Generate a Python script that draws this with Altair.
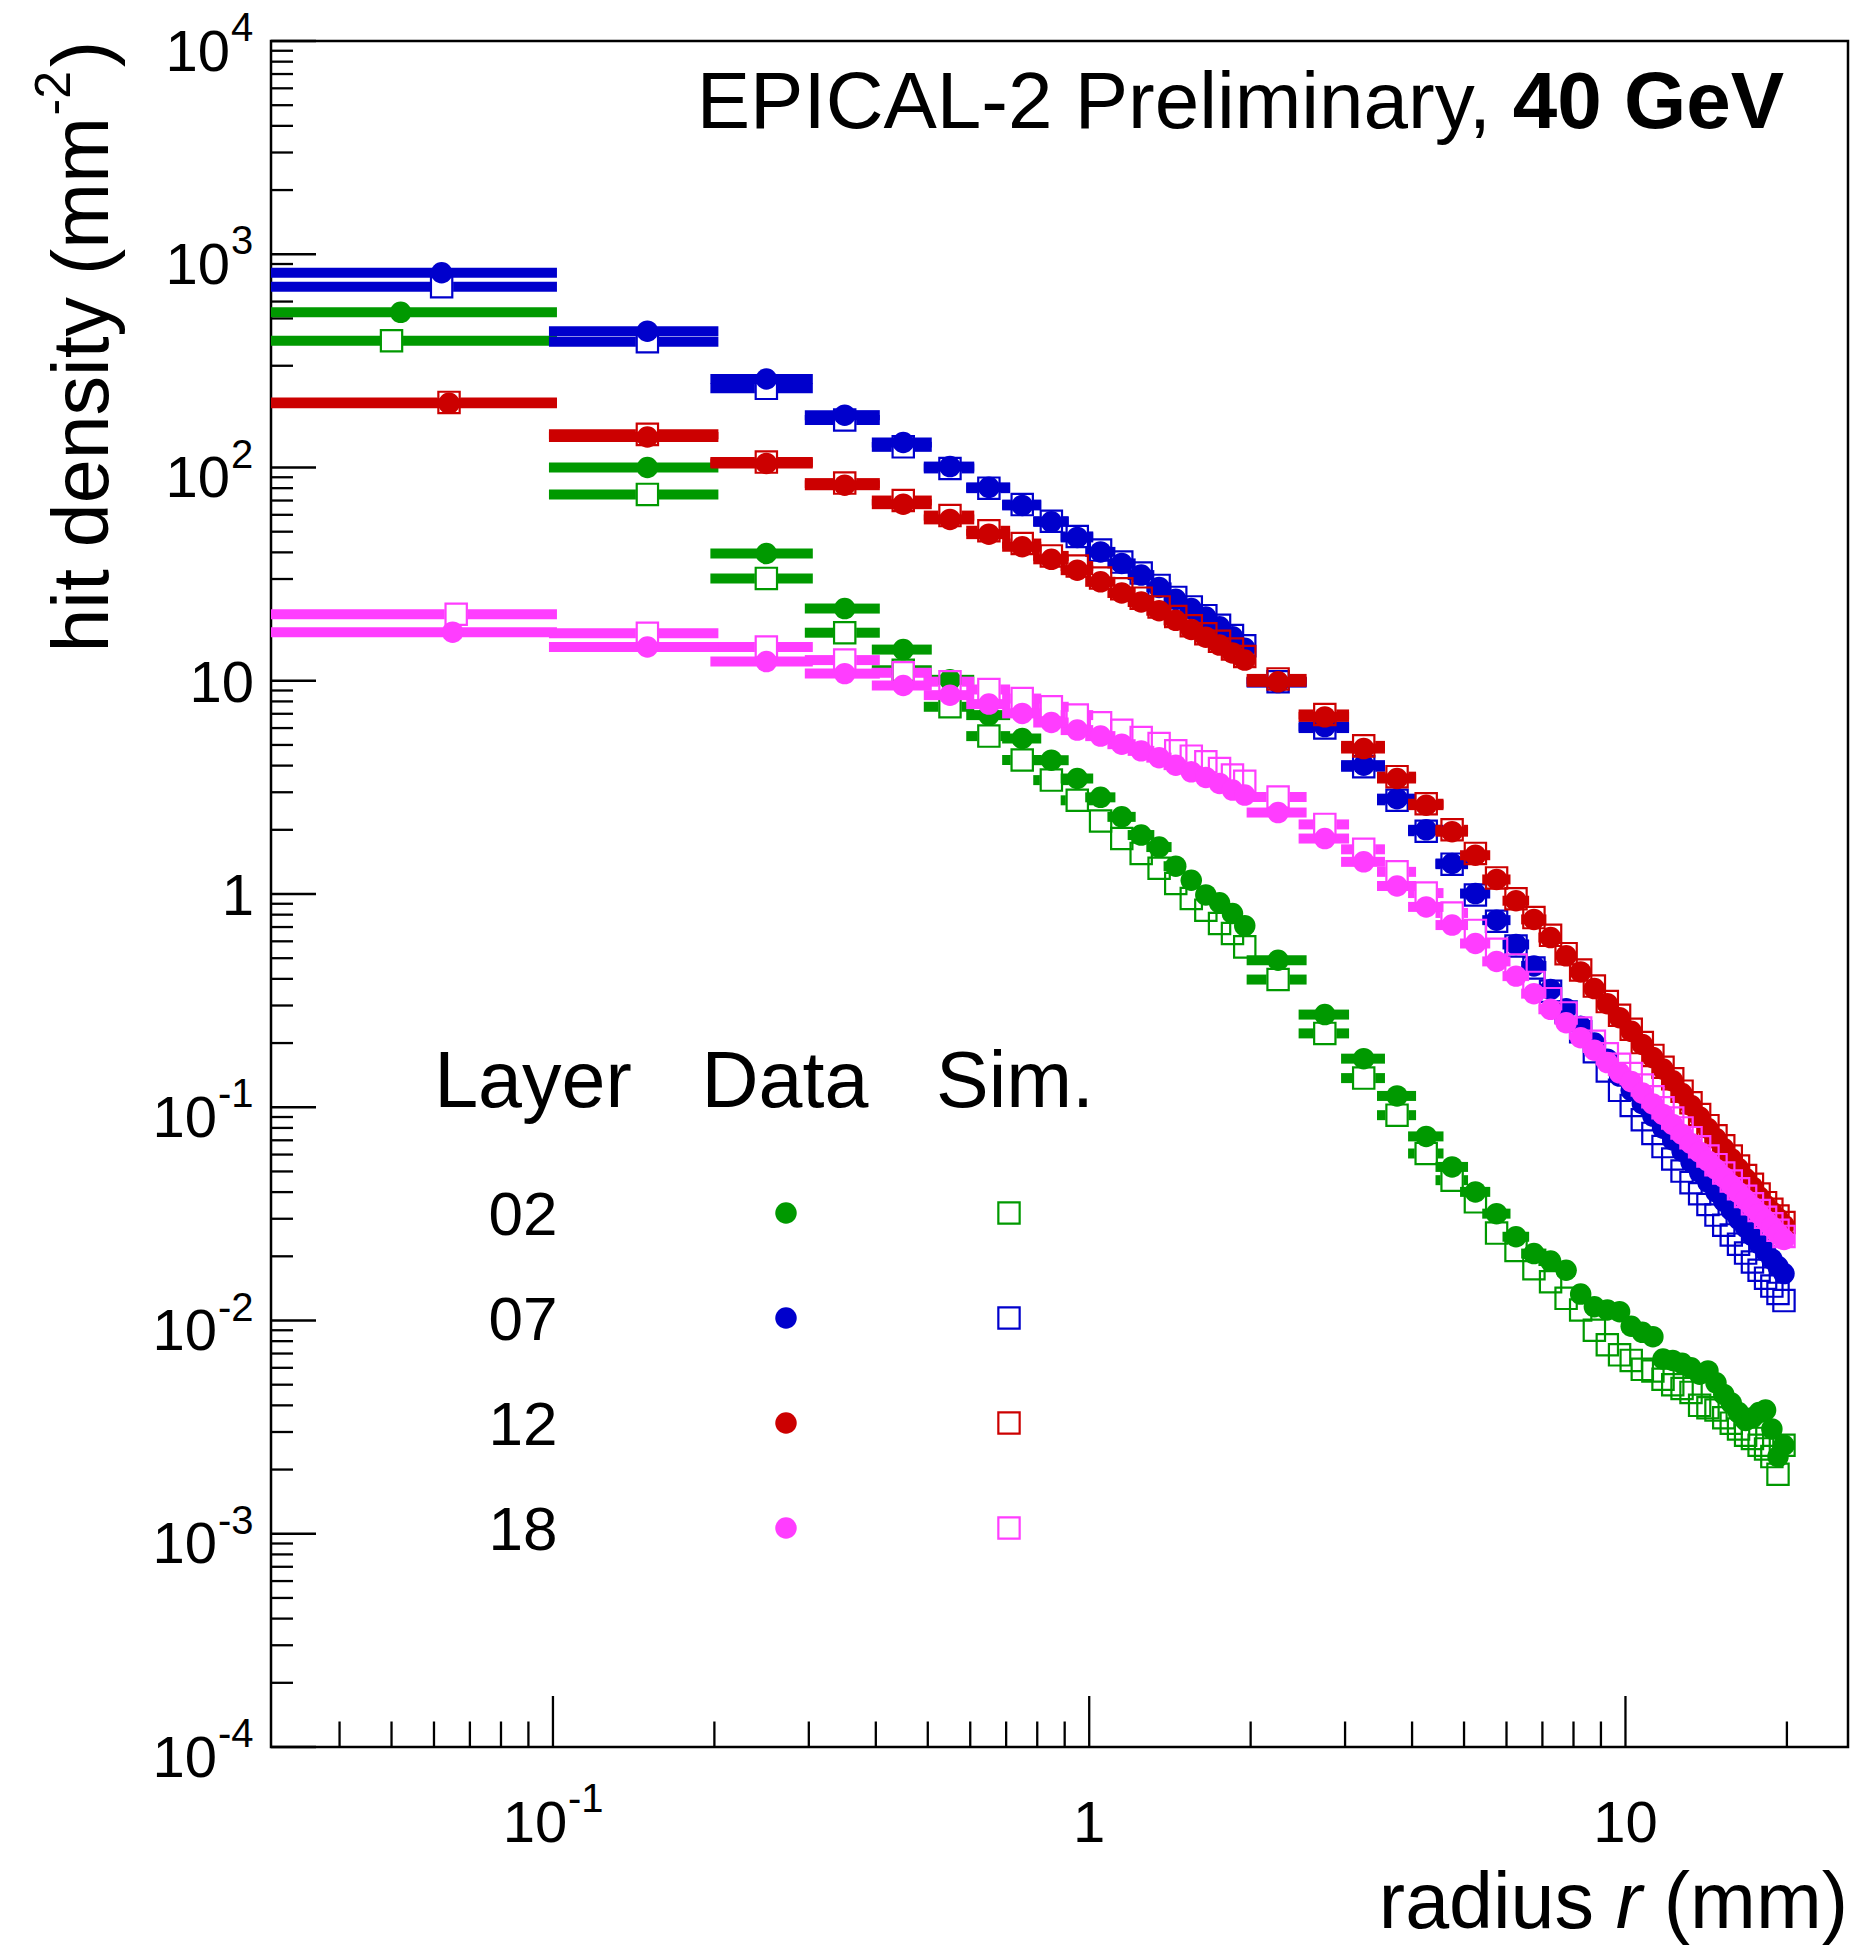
import math
import altair as alt
import pandas as pd

# ---------------------------------------------------------------------------
# Radial hit-density profiles, EPICAL-2, 40 GeV
# ---------------------------------------------------------------------------
LAYERS = ["02", "07", "12", "18"]
COLORS = {"02": "#009900", "07": "#0000cc", "12": "#cc0000", "18": "#ff3dff"}

# radial bin edges in mm: 0.1 mm bins up to 2 mm, 0.5 mm bins up to 20 mm
BIN_EDGES = [0.0, 0.1, 0.2, 0.3, 0.4, 0.5, 0.6, 0.7, 0.8, 0.9, 1.0,
             1.1, 1.2, 1.3, 1.4, 1.5, 1.6, 1.7, 1.8, 1.9, 2.0,
             2.5, 3.0, 3.5, 4.0, 4.5, 5.0, 5.5, 6.0, 6.5, 7.0, 7.5, 8.0,
             8.5, 9.0, 9.5, 10.0, 10.5, 11.0, 11.5, 12.0, 12.5, 13.0, 13.5,
             14.0, 14.5, 15.0, 15.5, 16.0, 16.5, 17.0, 17.5, 18.0, 18.5,
             19.0, 19.5, 20.0]

# mean radius of the innermost bin for each profile
FIRST_BIN_R = {("02", "Data"): 0.052, ("02", "Sim."): 0.050,
               ("07", "Data"): 0.062, ("07", "Sim."): 0.062,
               ("12", "Data"): 0.064, ("12", "Sim."): 0.064,
               ("18", "Data"): 0.065, ("18", "Sim."): 0.066}

# hit density (mm^-2), one value per bin
DATA_02 = [534, 100, 39.5, 21.8, 14.0, 10.1, 6.90, 5.36, 4.24, 3.48, 2.84, 2.30, 1.89, 1.66, 1.35, 1.16, 0.99, 0.91, 0.81, 0.71,
           0.489, 0.272, 0.169, 0.113, 0.073, 0.0525, 0.0401, 0.0317, 0.0247, 0.0206, 0.0190, 0.0172, 0.0133, 0.0116, 0.0112, 0.0110,
           0.0094, 0.0088, 0.0084, 0.0066, 0.0065, 0.0063, 0.0060, 0.0056, 0.0058, 0.0051, 0.0045, 0.0041, 0.0037, 0.0034, 0.0035,
           0.0037, 0.0038, 0.0031, 0.0023, 0.0026]
SIM_02 = [393, 74.8, 30.2, 16.8, 11.2, 7.55, 5.50, 4.25, 3.42, 2.75, 2.20, 1.82, 1.55, 1.32, 1.12, 0.953, 0.84, 0.727, 0.653, 0.565,
          0.397, 0.222, 0.137, 0.0918, 0.0607, 0.0455, 0.0360, 0.0257, 0.0213, 0.0175, 0.0152, 0.0127, 0.0112, 0.0090, 0.0077, 0.0069,
          0.0065, 0.0059, 0.0058, 0.0053, 0.0050, 0.0048, 0.0046, 0.0040, 0.0039, 0.0038, 0.0035, 0.0033, 0.0031, 0.0029, 0.0028,
          0.0026, 0.0025, 0.0023, 0.0019, 0.0026]
DATA_07 = [819, 436, 260, 176, 131, 101, 80.7, 66.4, 55.6, 47.0, 40.2, 35.5, 31.3, 27.4, 24.1, 21.8, 19.9, 17.9, 16.1, 14.2,
           9.8, 6.1, 4.02, 2.80, 2.00, 1.39, 1.005, 0.754, 0.58, 0.46, 0.357, 0.290, 0.240, 0.200, 0.168, 0.140,
           0.120, 0.104, 0.0909, 0.0797, 0.0703, 0.0623, 0.0554, 0.0496, 0.0445, 0.0401, 0.0363, 0.0329, 0.0299, 0.0273, 0.0250,
           0.0229, 0.0211, 0.0194, 0.0179, 0.0166]
SIM_07 = [704, 389, 235, 167, 125, 99, 80, 67, 56, 47.5, 41, 36, 32, 28, 24.6, 22.2, 20.2, 18.2, 16.3, 14.6,
          9.9, 6.0, 3.95, 2.75, 1.97, 1.38, 0.99, 0.745, 0.57, 0.45, 0.35, 0.28, 0.226, 0.182, 0.148, 0.120,
          0.102, 0.0874, 0.0754, 0.0654, 0.0572, 0.0502, 0.0443, 0.0393, 0.0350, 0.0312, 0.0280, 0.0252, 0.0228, 0.0207, 0.0188,
          0.0172, 0.0158, 0.0145, 0.0134, 0.0124]
DATA_12 = [200, 139, 104.5, 82.6, 67.3, 57.1, 48.7, 42.5, 37.1, 33.0, 29.1, 25.8, 23.4, 21.3, 19.2, 17.4, 16.0, 14.7, 13.5, 12.5,
           9.88, 6.77, 4.81, 3.48, 2.61, 1.96, 1.52, 1.17, 0.93, 0.76, 0.625, 0.513, 0.431, 0.360, 0.306, 0.263,
           0.227, 0.197, 0.171, 0.151, 0.133, 0.116, 0.102, 0.090, 0.0795, 0.0713, 0.0640, 0.0574, 0.0516, 0.0463, 0.0423,
           0.0380, 0.0347, 0.0323, 0.0301, 0.0280]
SIM_12 = [202, 143, 106, 84.5, 70, 59.5, 50.5, 44, 38.5, 34.5, 30.3, 27.0, 24.4, 22.2, 20.0, 18.1, 16.6, 15.3, 14.1, 13.0,
          10.2, 6.95, 4.95, 3.55, 2.65, 2.00, 1.55, 1.19, 0.95, 0.775, 0.64, 0.525, 0.44, 0.37, 0.313, 0.27,
          0.232, 0.201, 0.175, 0.154, 0.136, 0.119, 0.105, 0.0925, 0.082, 0.0735, 0.066, 0.059, 0.053, 0.0478, 0.0435,
          0.0392, 0.0357, 0.0332, 0.0309, 0.0288]
DATA_18 = [16.9, 14.4, 12.3, 10.8, 9.5, 8.56, 7.77, 7.03, 6.37, 5.87, 5.50, 5.04, 4.69, 4.36, 4.02, 3.74, 3.52, 3.30, 3.07, 2.91,
           2.41, 1.82, 1.415, 1.09, 0.87, 0.715, 0.586, 0.483, 0.412, 0.341, 0.288, 0.249, 0.212, 0.185, 0.162, 0.145,
           0.132, 0.1166, 0.1036, 0.0925, 0.0830, 0.0748, 0.0677, 0.0615, 0.0560, 0.0512, 0.0470, 0.0432, 0.0398, 0.0368, 0.0341,
           0.0317, 0.0295, 0.0275, 0.0256, 0.0240]
SIM_18 = [20.5, 16.7, 14.4, 12.5, 10.9, 9.9, 9.1, 8.25, 7.55, 6.90, 6.35, 5.86, 5.42, 5.08, 4.69, 4.43, 4.17, 3.88, 3.61, 3.38,
          2.85, 2.12, 1.62, 1.27, 1.01, 0.815, 0.675, 0.55, 0.465, 0.385, 0.323, 0.277, 0.235, 0.204, 0.178, 0.159,
          0.144, 0.127, 0.112, 0.0995, 0.089, 0.080, 0.072, 0.0652, 0.059, 0.0538, 0.0492, 0.0451, 0.0415, 0.0382, 0.0353,
          0.0328, 0.0305, 0.0284, 0.0265, 0.0248]

PROFILES = {("02", "Sim."): SIM_02, ("02", "Data"): DATA_02,
            ("07", "Sim."): SIM_07, ("07", "Data"): DATA_07,
            ("12", "Sim."): SIM_12, ("12", "Data"): DATA_12,
            ("18", "Sim."): SIM_18, ("18", "Data"): DATA_18}

# ---------------------------------------------------------------------------
# geometry and styling
# ---------------------------------------------------------------------------
W, H = 1577, 1706
XMIN, XMAX = 0.0298, 26.0
YMIN, YMAX = 1e-4, 1e4
FONT = "Liberation Sans"
BAR_W = 10
CIRCLE_SIZE = 462      # 21.5 px diameter
SQUARE_SIZE = 454      # 21.3 px side
GAP = {"Data": 8.0, "Sim.": 11.5}
PX_PER_DECADE = W / (math.log10(XMAX) - math.log10(XMIN))

XS = alt.Scale(type="log", domain=[XMIN, XMAX], nice=False)
YS = alt.Scale(type="log", domain=[YMIN, YMAX], nice=False)


def profile_frame(layer, kind):
    rows = []
    vals = PROFILES[(layer, kind)]
    for i, v in enumerate(vals):
        lo, hi = BIN_EDGES[i], BIN_EDGES[i + 1]
        r = FIRST_BIN_R[(layer, kind)] if i == 0 else 0.5 * (lo + hi)
        lo_d = max(lo, XMIN)
        left_px = PX_PER_DECADE * math.log10(r / lo_d) if lo > 0 else 1e9
        right_px = PX_PER_DECADE * math.log10(hi / r)
        rows.append(dict(r=r, lo=lo_d, hi=hi, v=v,
                         left=left_px > GAP[kind], right=right_px > GAP[kind]))
    return pd.DataFrame(rows)


layers = []

# ---- axis ticks (drawn inward) ----
y_major = [10.0 ** e for e in range(-4, 5)]
y_minor = [k * 10.0 ** e for e in range(-4, 4) for k in range(2, 10)]
x_major = [0.1, 1.0, 10.0]
x_minor = ([k * 0.01 for k in range(4, 10)] + [k * 0.1 for k in range(2, 10)]
           + [float(k) for k in range(2, 10)] + [20.0])

layers.append(alt.Chart(pd.DataFrame({"v": y_major})).mark_rule(color="black", strokeWidth=2.3).encode(
    y=alt.Y("v:Q", scale=YS, axis=None), x=alt.value(0), x2=alt.value(45)))
layers.append(alt.Chart(pd.DataFrame({"v": y_minor})).mark_rule(color="black", strokeWidth=2.3).encode(
    y=alt.Y("v:Q", scale=YS, axis=None), x=alt.value(0), x2=alt.value(22)))
layers.append(alt.Chart(pd.DataFrame({"r": x_major})).mark_rule(color="black", strokeWidth=2.3).encode(
    x=alt.X("r:Q", scale=XS, axis=None), y=alt.value(H), y2=alt.value(H - 51)))
layers.append(alt.Chart(pd.DataFrame({"r": x_minor})).mark_rule(color="black", strokeWidth=2.3).encode(
    x=alt.X("r:Q", scale=XS, axis=None), y=alt.value(H), y2=alt.value(H - 25.5)))

# ---- profiles: bin-width bars and markers ----
for layer in LAYERS:
    col = COLORS[layer]
    for kind in ["Sim.", "Data"]:
        df = profile_frame(layer, kind)
        g = GAP[kind]
        left = df[df["left"]]
        right = df[df["right"]]
        layers.append(alt.Chart(left).mark_rule(
            color=col, strokeWidth=BAR_W, strokeCap="butt", clip=True, xOffset=-4, x2Offset=-g).encode(
            x=alt.X("lo:Q", scale=XS, axis=None), x2="r:Q", y=alt.Y("v:Q", scale=YS, axis=None)))
        layers.append(alt.Chart(right).mark_rule(
            color=col, strokeWidth=BAR_W, strokeCap="butt", clip=True, xOffset=g, x2Offset=4).encode(
            x=alt.X("r:Q", scale=XS, axis=None), x2="hi:Q", y=alt.Y("v:Q", scale=YS, axis=None)))
        if kind == "Data":
            pts = alt.Chart(df).mark_point(shape="circle", filled=True, size=CIRCLE_SIZE,
                                           opacity=1, color=col, strokeWidth=0)
        else:
            pts = alt.Chart(df).mark_point(shape="square", filled=False, size=SQUARE_SIZE,
                                           opacity=1, color=col, strokeWidth=2.2)
        layers.append(pts.encode(x=alt.X("r:Q", scale=XS, axis=None),
                                 y=alt.Y("v:Q", scale=YS, axis=None)))

# ---- tick labels ----
def ylab(values, text_field, x, dy, size, align):
    return alt.Chart(pd.DataFrame(values)).mark_text(
        font=FONT, fontSize=size, align=align, baseline="alphabetic", dy=dy, color="black").encode(
        y=alt.Y("v:Q", scale=YS, axis=None), x=alt.value(x), text=f"{text_field}:N")

pos_exp = {"v": [1e4, 1e3, 1e2], "b": ["10"] * 3, "e": ["4", "3", "2"]}
neg_exp = {"v": [1e-1, 1e-2, 1e-3, 1e-4], "b": ["10"] * 4, "e": ["-1", "-2", "-3", "-4"]}
plain = {"v": [10.0, 1.0], "b": ["10", "1"]}
layers.append(ylab(pos_exp, "b", -41, 29.5, 58, "right"))
layers.append(ylab(pos_exp, "e", -40, 0, 40, "left"))
layers.append(ylab(neg_exp, "b", -54, 29.5, 58, "right"))
layers.append(ylab(neg_exp, "e", -53, 0, 40, "left"))
layers.append(ylab(plain, "b", -17, 21, 58, "right"))

xl_exp = pd.DataFrame({"r": [0.1], "b": ["10"], "e": ["-1"]})
xl_plain = pd.DataFrame({"r": [1.0, 10.0], "b": ["1", "10"]})
layers.append(alt.Chart(xl_exp).mark_text(font=FONT, fontSize=58, align="center", baseline="alphabetic",
                                          dx=-18, color="black").encode(
    x=alt.X("r:Q", scale=XS, axis=None), y=alt.value(H + 95), text="b:N"))
layers.append(alt.Chart(xl_exp).mark_text(font=FONT, fontSize=40, align="left", baseline="alphabetic",
                                          dx=15, color="black").encode(
    x=alt.X("r:Q", scale=XS, axis=None), y=alt.value(H + 65), text="e:N"))
layers.append(alt.Chart(xl_plain).mark_text(font=FONT, fontSize=58, align="center", baseline="alphabetic",
                                            color="black").encode(
    x=alt.X("r:Q", scale=XS, axis=None), y=alt.value(H + 95), text="b:N"))

# ---- free text: titles, header, legend ----
ONE = pd.DataFrame({"k": [0]})


def txt(text, x, y, size, align="left", angle=0, weight="normal", style="normal"):
    return alt.Chart(ONE).mark_text(text=text, font=FONT, fontSize=size, align=align,
                                    baseline="alphabetic", angle=angle, fontWeight=weight,
                                    fontStyle=style, color="black").encode(
        x=alt.value(x), y=alt.value(y))


# y-axis title, read bottom to top, ending at the top of the frame
layers.append(txt(")", -163, 0, 79, align="right", angle=270))
layers.append(txt("-2", -201, 30, 50, align="right", angle=270))
layers.append(txt("hit density (mm", -163, 76, 79, align="right", angle=270))

# x-axis title, right-aligned with the frame
X_TITLE_Y = H + 181
layers.append(txt("(mm)", W, X_TITLE_Y, 79, align="right"))
layers.append(txt("r", W - 206, X_TITLE_Y, 79, align="right", style="italic"))
layers.append(txt("radius", W - 254, X_TITLE_Y, 79, align="right"))

# header
layers.append(txt("40 GeV", 1513, 87, 80, align="right", weight="bold"))
layers.append(txt("EPICAL-2 Preliminary,", 1220, 87, 80, align="right"))

# legend table
layers.append(txt("Layer", 262, 1066, 79, align="center"))
layers.append(txt("Data", 514, 1066, 79, align="center"))
layers.append(txt("Sim.", 744, 1066, 79, align="center"))
for i, layer in enumerate(LAYERS):
    base = 1194 + 105 * i
    layers.append(txt(layer, 252, base, 62, align="center"))
    layers.append(alt.Chart(ONE).mark_point(shape="circle", filled=True, size=CIRCLE_SIZE, opacity=1,
                                            color=COLORS[layer], strokeWidth=0).encode(
        x=alt.value(515), y=alt.value(base - 22)))
    layers.append(alt.Chart(ONE).mark_point(shape="square", filled=False, size=SQUARE_SIZE, opacity=1,
                                            color=COLORS[layer], strokeWidth=2.2).encode(
        x=alt.value(738), y=alt.value(base - 22)))

chart = alt.layer(*layers).properties(
    width=W, height=H,
    autosize=alt.AutoSizeParams(type="none"),
    padding={"left": 271, "top": 41, "right": 2, "bottom": 200},
    background="white",
).configure_view(stroke="black", strokeWidth=2.5)

chart.save("out.html", embed_options={"renderer": "svg", "actions": False})
